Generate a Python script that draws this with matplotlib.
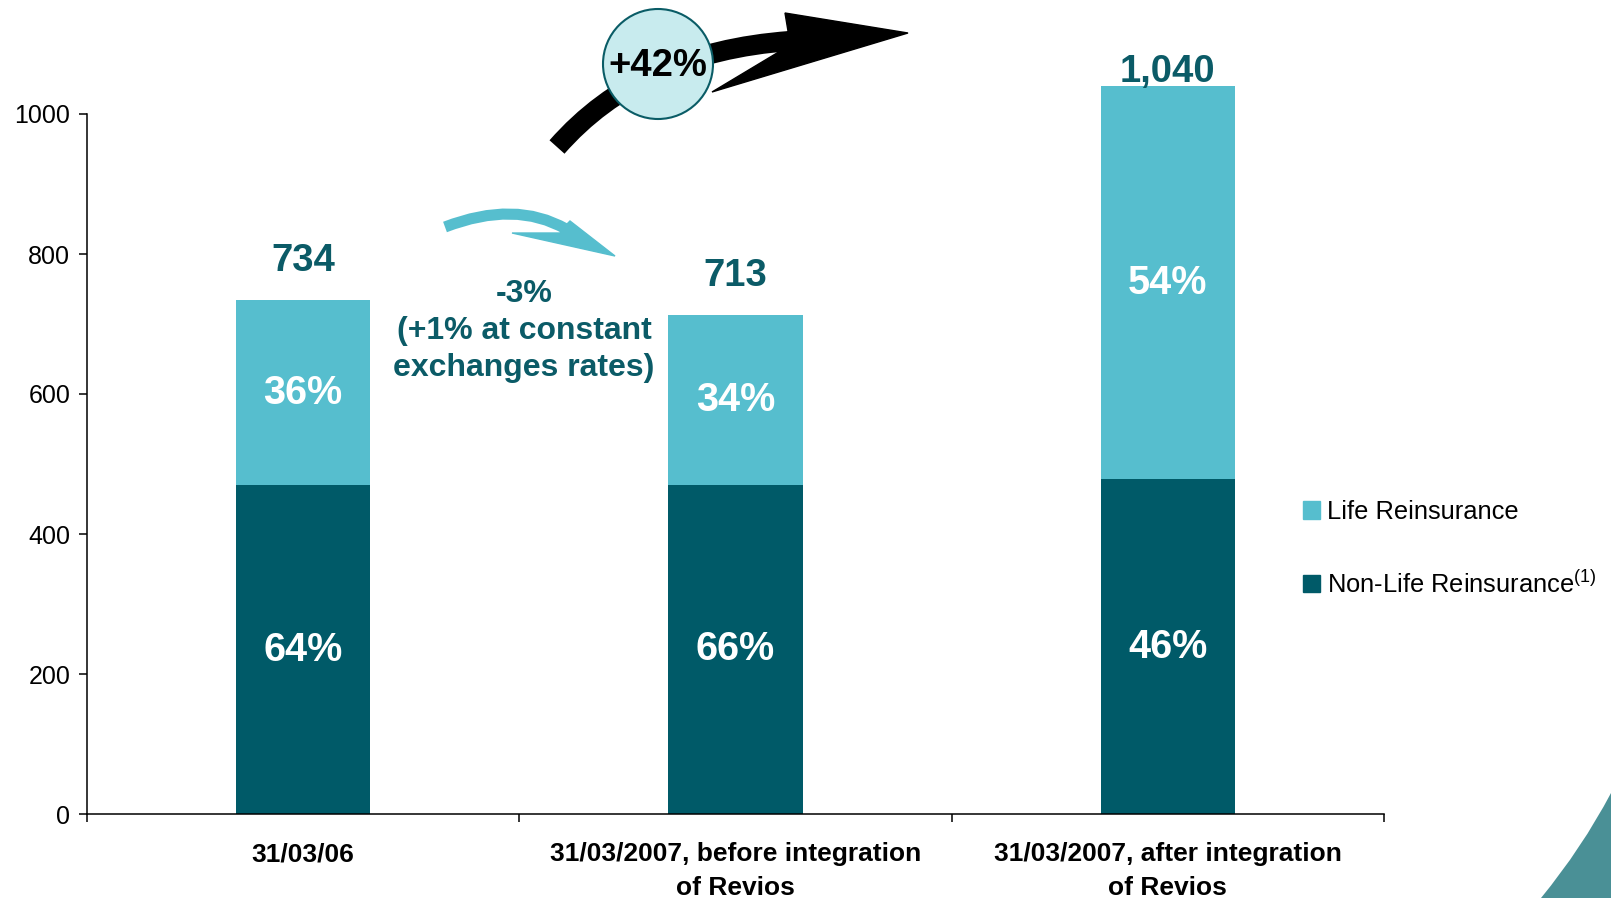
import matplotlib
matplotlib.use("Agg")
import matplotlib.pyplot as plt
from matplotlib.patches import Circle, Polygon, PathPatch, Patch
from matplotlib.path import Path
from matplotlib.transforms import Affine2D

plt.rcParams["font.family"] = ["Liberation Sans", "DejaVu Sans"]
plt.rcParams["mathtext.fontset"] = "custom"
plt.rcParams["mathtext.rm"] = "Liberation Sans"

# premium data (EUR m) and split between the two business lines
categories = [
    "31/03/06",
    "31/03/2007, before integration\nof Revios",
    "31/03/2007, after integration\nof Revios",
]
totals = [734, 713, 1040]
total_labels = ["734", "713", "1,040"]
non_life_share = [64, 66, 46]
life_share = [36, 34, 54]
y_ticks = [0, 200, 400, 600, 800, 1000]

LIFE_COLOR = "#56BECE"
NON_LIFE_COLOR = "#005A68"
TEXT_TEAL = "#0B5B67"

W, H = 1611, 898
fig = plt.figure(figsize=(W / 100, H / 100), dpi=100)
ax = fig.add_axes([87 / W, 1 - 814 / H, (1384 - 87) / W, (814 - 114) / H])

# pixel coordinates measured from the top-left corner
px = Affine2D().scale(1 / W, -1 / H).translate(0, 1) + fig.transFigure

x = list(range(len(categories)))
non_life = [t * s / 100 for t, s in zip(totals, non_life_share)]
life = [t - n for t, n in zip(totals, non_life)]

ax.bar(x, non_life, width=0.31, color=NON_LIFE_COLOR, zorder=2)
ax.bar(x, life, width=0.31, bottom=non_life, color=LIFE_COLOR, zorder=2, clip_on=False)

for i in x:
    ax.text(i, non_life[i] / 2, f"{non_life_share[i]}%", ha="center", va="center",
            color="white", fontsize=28.5, fontweight="bold")
    ax.text(i, non_life[i] + life[i] / 2, f"{life_share[i]}%", ha="center", va="center",
            color="white", fontsize=28.5, fontweight="bold")

label_pad = [28, 28, 10]
for i in x:
    ax.annotate(total_labels[i], (i, totals[i]), xytext=(0, label_pad[i]),
                textcoords="offset points", ha="center", va="center",
                color=TEXT_TEAL, fontsize=27.5, fontweight="bold", annotation_clip=False)

ax.set_xlim(-0.5, 2.5)
ax.set_ylim(0, 1000)
ax.set_yticks(y_ticks)
ax.tick_params(axis="y", direction="out", length=6, width=1.1, labelsize=18, pad=6)

ax.set_xticks([-0.5, 0.5, 1.5, 2.5])
ax.set_xticklabels([])
ax.tick_params(axis="x", which="major", direction="out", length=6, width=1.1)
ax.set_xticks(x, minor=True)
ax.set_xticklabels(categories, minor=True, fontsize=19, fontweight="bold",
                   linespacing=1.5, va="top")
ax.tick_params(axis="x", which="minor", length=0, pad=20.5)

for side in ["top", "right"]:
    ax.spines[side].set_visible(False)
for side in ["left", "bottom"]:
    ax.spines[side].set_linewidth(1.1)

handles = [Patch(color=LIFE_COLOR), Patch(color=NON_LIFE_COLOR)]
labels = ["Life Reinsurance", "Non-Life Reinsurance$^{(1)}$"]
fig.legend(handles, labels, loc="upper left", bbox_to_anchor=(1303 / W, 1 - 500 / H),
           frameon=False, fontsize=18.4, handlelength=0.65, handleheight=0.65,
           handletextpad=0.3, labelspacing=1.8, borderpad=0, borderaxespad=0)

# black growth arrow behind the +42% bubble
shaft = Path([(557, 147), (640, 52), (790, 41)], [Path.MOVETO, Path.CURVE3, Path.CURVE3])
fig.patches.append(PathPatch(shaft, transform=px, fill=False, lw=14.5, color="black",
                             capstyle="butt"))
fig.patches.append(Polygon([(788, 31), (785, 13), (908, 33), (712, 92), (777, 53)],
                           closed=True, transform=px, color="black"))
fig.patches.append(Circle((658, 64), 55, transform=px, facecolor="#C8EBEE",
                          edgecolor="#0A5C66", lw=1.5, zorder=3))
fig.text(658, 66, "+42%", transform=px, ha="center", va="center", fontsize=27.5,
         fontweight="bold", color="black", zorder=4)

# small cyan arrow between the first two bars
small = Path([(445, 227), (515, 200), (566, 229)], [Path.MOVETO, Path.CURVE3, Path.CURVE3])
fig.patches.append(PathPatch(small, transform=px, fill=False, lw=8, color=LIFE_COLOR,
                             capstyle="butt"))
fig.patches.append(Polygon([(565, 226), (570, 221), (615, 256), (512, 233), (560, 233)],
                           closed=True, transform=px, color=LIFE_COLOR))
fig.text(524, 331, "-3%\n(+1% at constant\nexchanges rates)", transform=px, ha="center",
         va="center", fontsize=23, fontweight="bold", color=TEXT_TEAL, linespacing=1.3)

# corner swoosh
corner = Path([(1541, 898), (1582, 848), (1611, 793), (1611, 898), (1541, 898)],
              [Path.MOVETO, Path.CURVE3, Path.CURVE3, Path.LINETO, Path.CLOSEPOLY])
fig.patches.append(PathPatch(corner, transform=px, facecolor="#4A9096", edgecolor="none"))

fig.savefig("out.png", dpi=100)
